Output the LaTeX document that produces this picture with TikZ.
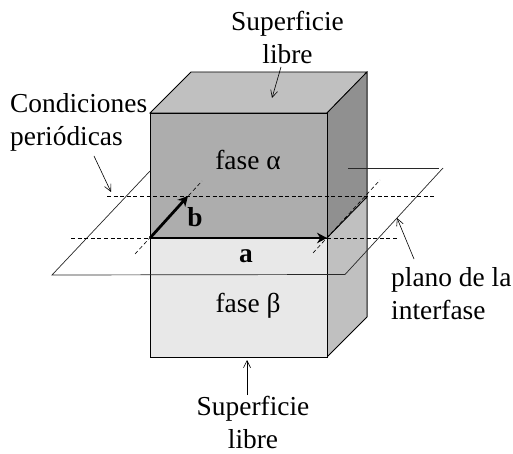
\documentclass[tikz,border=0pt]{standalone}
\usepackage{fontspec}
\setmainfont{Liberation Serif}
\usetikzlibrary{arrows.meta, positioning}
\definecolor{topgray}{RGB}{192, 192, 192}
\definecolor{alphagray}{RGB}{173, 173, 173}
\definecolor{sidegray}{RGB}{144, 144, 144}
\definecolor{betagray}{RGB}{232, 232, 232}
\definecolor{planeline}{RGB}{40, 40, 40}
\definecolor{edgegray}{RGB}{100, 100, 100}

\begin{document}
\begin{tikzpicture}[
    x=1pt, y=-1pt,
    face/.style={draw=black, line width=0.8pt, fill=#1},
    label/.style={font=\fontsize{27.4}{33}\selectfont, inner sep=0pt},
    vector/.style={-{Stealth[length=10pt, width=10.5pt]}, line width=2.8pt},
    pointer/.style={-{Straight Barb[length=7pt, width=7pt]}, line width=0.6pt},
    guide/.style={dash pattern=on 4pt off 2.6pt, line width=0.6pt},
    plane/.style={draw=planeline, line width=0.7pt}
]
    \useasboundingbox (0,0) rectangle (513,454);

    % corners of the block
    \coordinate (fronttl) at (150,113);
    \coordinate (fronttr) at (327,113);
    \coordinate (frontml) at (150,238);
    \coordinate (frontmr) at (327,238);
    \coordinate (frontbl) at (150,357);
    \coordinate (frontbr) at (327,357);
    \coordinate (backtl) at (191,72);
    \coordinate (backtr) at (367,72);
    \coordinate (backmr) at (367,197);
    \coordinate (backbr) at (367,317);

    \draw[face=topgray] (fronttl) -- (backtl) -- (backtr) -- (fronttr) -- cycle;
    \draw[face=sidegray] (fronttr) -- (backtr) -- (backmr) -- (frontmr) -- cycle;
    \draw[face=topgray] (frontmr) -- (backmr) -- (backbr) -- (frontbr) -- cycle;
    \draw[face=alphagray] (fronttl) -- (fronttr) -- (frontmr) -- (frontml) -- cycle;
    \draw[face=betagray] (frontml) -- (frontmr) -- (frontbr) -- (frontbl) -- cycle;
    \draw[draw=edgegray, line width=0.9pt] (backtr) -- (backbr);

    % interface plane
    \coordinate (planel) at (52,275);
    \coordinate (planer) at (345,274.5);
    \coordinate (planetr) at (443,168);
    \coordinate (planebehind) at (150,171);
    \coordinate (planetop) at (348,168);
    \coordinate (planeend) at (439,168);

    \draw[plane] (planebehind) -- (planel) -- (planer) -- (planetr);
    \draw[plane] (planetop) -- (planeend);

    % periodic lines
    \coordinate (upperl) at (107,196);
    \coordinate (upperr) at (434,196);
    \coordinate (lowerl) at (71,238);
    \coordinate (lowerr) at (398,238);
    \coordinate (diagal) at (135,254);
    \coordinate (diagar) at (202,181);
    \coordinate (diagbl) at (313,253);
    \coordinate (diagbr) at (380,180);

    \draw[guide] (upperl) -- (upperr);
    \draw[guide] (lowerl) -- (frontml);
    \draw[guide] (frontmr) -- (lowerr);
    \draw[guide] (diagal) -- (diagar);
    \draw[guide] (diagbl) -- (diagbr);

    % lattice vectors
    \coordinate (vecb) at (188,196);
    \draw[vector] (frontml) -- (frontmr);
    \draw[vector] (frontml) -- (vecb);

    \node[label, anchor=base] (alpha) at (248,170) {fase α};
    \node[label, anchor=base] (beta) at (248,312) {fase β};
    \node[label, anchor=base] (veca) at (246,262) {\textbf{a}};
    \node[label, anchor=base] (veclb) at (195,226) {\textbf{b}};

    \node[label, align=center] (freetop) at (287.5,37) {Superficie\\libre};
    \node[label, align=center] (freebottom) at (253,422) {Superficie\\libre};
    \node[label, align=left, anchor=west] (periodic) at (10,122) {Condiciones\\periódicas};
    \node[label, align=left, anchor=west] (interface) at (391,293.5) {plano de la\\interfase};

    \coordinate (freetopfrom) at (281,67);
    \coordinate (freetopto) at (272,98);
    \coordinate (freebottomfrom) at (247,395);
    \coordinate (freebottomto) at (247,360);
    \coordinate (periodicfrom) at (94,156);
    \coordinate (periodicto) at (111,192);
    \coordinate (interfacefrom) at (414,259);
    \coordinate (interfaceto) at (397,218);

    \draw[pointer] (freetopfrom) -- (freetopto);
    \draw[pointer] (freebottomfrom) -- (freebottomto);
    \draw[pointer] (periodicfrom) -- (periodicto);
    \draw[pointer] (interfacefrom) -- (interfaceto);
\end{tikzpicture}
\end{document}
